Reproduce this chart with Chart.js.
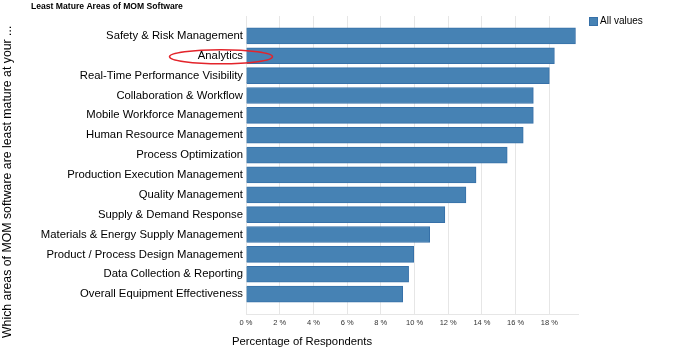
<!DOCTYPE html>
<html>
<head>
<meta charset="utf-8">
<script src="https://cdn.jsdelivr.net/npm/chart.js@4/dist/chart.umd.min.js"></script>
<style>
  body { margin: 0; background: #fff; }
  #wrap { width: 674px; height: 350px; position: relative; }
</style>
</head>
<body>
<div id="wrap"><canvas id="chart"></canvas></div>
<script>
// Least mature MOM areas, share of respondents (%)
const categories = [
  'Safety & Risk Management',
  'Analytics',
  'Real-Time Performance Visibility',
  'Collaboration & Workflow',
  'Mobile Workforce Management',
  'Human Resource Management',
  'Process Optimization',
  'Production Execution Management',
  'Quality Management',
  'Supply & Demand Response',
  'Materials & Energy Supply Management',
  'Product / Process Design Management',
  'Data Collection & Reporting',
  'Overall Equipment Effectiveness'
];
const values = [19.55, 18.3, 18.0, 17.05, 17.05, 16.45, 15.5, 13.65, 13.05, 11.8, 10.9, 9.95, 9.65, 9.3];
const seriesName = 'All values';
const xMax = 19.7;
const xStep = 2;
const highlighted = 'Analytics';

const chartTitle = 'Least Mature Areas of MOM Software';
const yTitle = 'Which areas of MOM software are least mature at your ...';
const xTitle = 'Percentage of Respondents';

const barFill = '#4682b4';
const barEdge = '#3670a8';
const labelFont = 'Liberation Sans, Arial, sans-serif';

// titles, legend and the red ring around one label
const extras = {
  id: 'extras',
  afterDraw(chart) {
    const ctx = chart.ctx;
    const area = chart.chartArea;
    const y = chart.scales.y;
    ctx.save();
    ctx.fillStyle = '#000';
    ctx.font = '11.3px ' + labelFont;
    ctx.textBaseline = 'middle';
    ctx.textAlign = 'left';
    ctx.fillText(xTitle, area.left - 14, 342);

    ctx.save();
    ctx.font = '12.3px ' + labelFont;
    ctx.translate(8, 338);
    ctx.rotate(-Math.PI / 2);
    ctx.fillText(yTitle, 0, 0);
    ctx.restore();

    // legend
    const ds = chart.data.datasets[0];
    const lx = area.right + 11, ly = 17;
    ctx.fillStyle = ds.backgroundColor;
    ctx.fillRect(lx, ly, 9, 9);
    ctx.strokeStyle = ds.borderColor;
    ctx.lineWidth = 1;
    ctx.strokeRect(lx + 0.5, ly + 0.5, 8, 8);
    ctx.fillStyle = '#000';
    ctx.font = '10px ' + labelFont;
    ctx.fillText(ds.label, lx + 11, ly + 4.5);

    // ring around highlighted category label
    const idx = categories.indexOf(highlighted);
    const cy = y.getPixelForValue(idx) + 1;
    ctx.beginPath();
    ctx.ellipse(area.left - 25, cy, 51.5, 7, 0, 0, Math.PI * 2);
    ctx.strokeStyle = '#e3242b';
    ctx.lineWidth = 1.5;
    ctx.stroke();
    ctx.restore();
  }
};

const ctx = document.getElementById('chart').getContext('2d');
new Chart(ctx, {
  type: 'bar',
  data: {
    datasets: [{
      label: seriesName,
      data: categories.map((c, i) => ({ x: values[i], y: i })),
      backgroundColor: barFill,
      borderColor: barEdge,
      borderWidth: 1,
      barThickness: 16
    }]
  },
  options: {
    indexAxis: 'y',
    responsive: true,
    maintainAspectRatio: false,
    animation: false,
    layout: { padding: { left: 31, right: 96, top: 0, bottom: 0 } },
    plugins: {
      legend: { display: false },
      tooltip: { enabled: false },
      title: {
        display: true,
        text: chartTitle,
        align: 'start',
        color: '#000',
        font: { family: labelFont, size: 8.6, weight: 'bold' },
        padding: { top: 1, bottom: 4.7 }
      }
    },
    scales: {
      x: {
        type: 'linear',
        min: 0,
        max: xMax,
        grid: { color: '#e6e6e6', drawTicks: false },
        border: { display: true, color: '#e6e6e6' },
        ticks: {
          stepSize: xStep,
          includeBounds: false,
          padding: 4,
          color: '#333',
          font: { family: labelFont, size: 7.5 },
          callback: v => v + ' %'
        },
        afterFit(scale) { scale.height = 36; }
      },
      y: {
        type: 'linear',
        min: -1,
        max: categories.length,
        reverse: true,
        offset: false,
        grid: { display: false, drawTicks: false },
        border: { display: false },
        ticks: {
          stepSize: 1,
          autoSkip: false,
          padding: 3,
          color: '#000',
          font: { family: labelFont, size: 11.3 },
          callback: v => categories[v] || ''
        },
        afterFit(scale) { scale.width = 215; }
      }
    }
  },
  plugins: [extras]
});
</script>
</body>
</html>
